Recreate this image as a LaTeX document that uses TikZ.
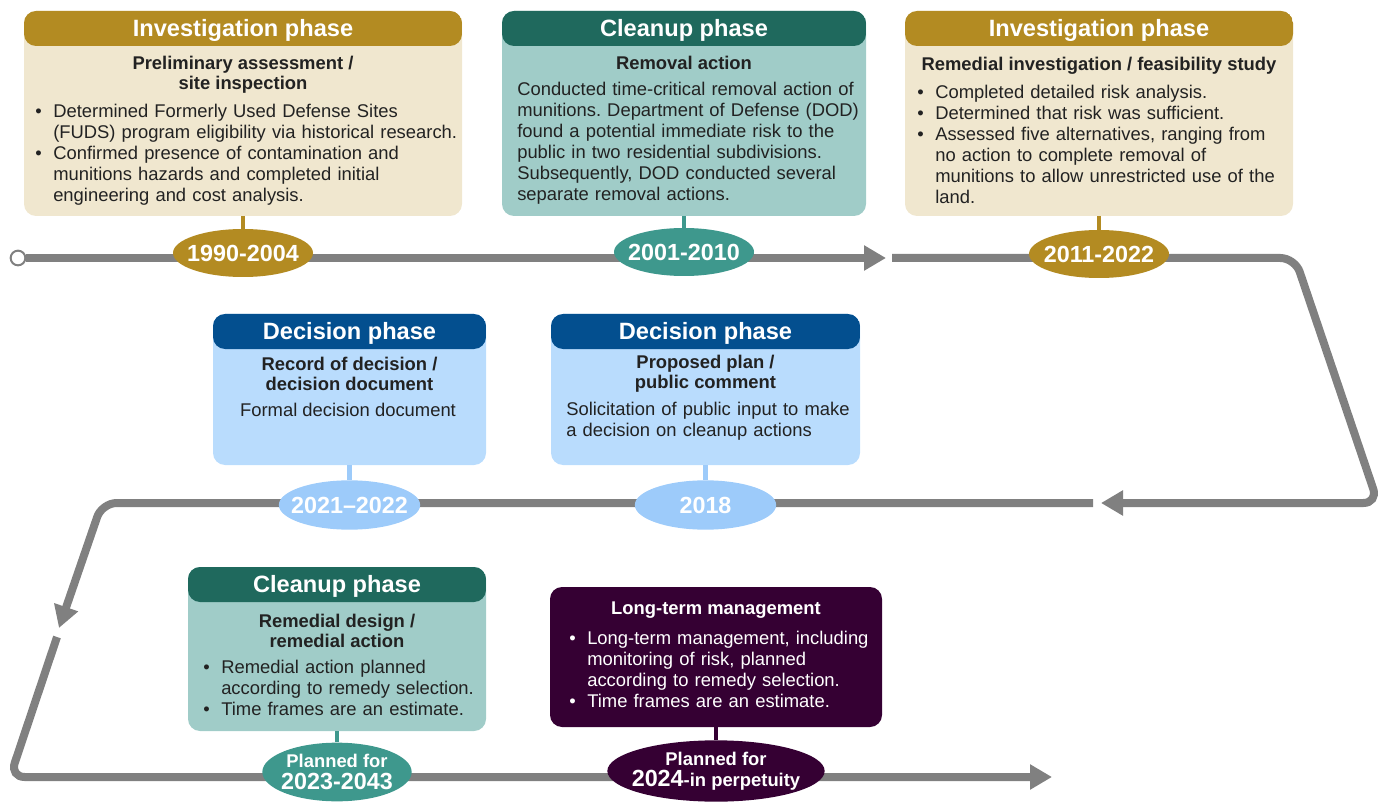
\documentclass[tikz,border=0pt]{standalone}
\usepackage{fontspec}
\setmainfont{Liberation Sans}
\frenchspacing
\usetikzlibrary{shapes.geometric,arrows.meta,fit}
\definecolor{goldc}{HTML}{B38B22}
\definecolor{creamc}{HTML}{F0E7CF}
\definecolor{tealh}{HTML}{1F695D}
\definecolor{tealb}{HTML}{A0CCC8}
\definecolor{teale}{HTML}{3E988D}
\definecolor{blueh}{HTML}{034F8F}
\definecolor{blueb}{HTML}{B9DCFD}
\definecolor{bluee}{HTML}{9DCBFA}
\definecolor{purp}{HTML}{350033}
\definecolor{linec}{HTML}{808080}
\definecolor{txt}{HTML}{222222}
\newcommand{\hdrf}{\bfseries\fontsize{17.7}{20}\selectfont}
\newcommand{\subf}{\bfseries\fontsize{13.8}{15}\selectfont}
\newcommand{\bodyf}{\fontsize{13.8}{15.75}\selectfont}
\newcommand{\yrf}{\bfseries\fontsize{17.5}{19}\selectfont}
\newcommand{\bl}{\makebox[13.5pt][l]{\textbullet}}
\newcommand{\ind}{\hspace*{13.5pt}}
\newcommand{\nl}{\hfil\break}
\tikzset{
  phase/.style 2 args={inner sep=0pt, outer sep=0pt, rounded corners=9pt, fill=#2,
    path picture={\fill[#1] (path picture bounding box.north west) rectangle ([yshift=-26.25pt]path picture bounding box.north east);}},
  plainbox/.style={inner sep=0pt, outer sep=0pt, rounded corners=9pt, fill=#1},
  htext/.style={text=white, font=\hdrf, inner sep=0pt},
  stitle/.style={text=txt, font=\subf, align=center, inner sep=0pt},
  btext/.style={text=txt, font=\bodyf, anchor=north west, inner sep=0pt, text width=360pt},
  yr/.style={ellipse, fill=#1, inner sep=0pt, minimum width=105pt, minimum height=36pt},
  yrt/.style={text=white, font=\yrf, inner sep=0pt, align=center},
  stem/.style={draw=#1, line width=3.5pt},
  tl/.style={draw=linec, line width=6pt, rounded corners=11pt},
  arr/.style={-{Triangle[length=16.5pt,width=18pt]}},
}
\begin{document}
\begin{tikzpicture}[x=0.75pt,y=-0.75pt]
\useasboundingbox (0,0) rectangle (1385,802);
% ---------- timeline ----------
\node[circle, draw=linec, line width=1.5pt, fill=white, minimum size=11pt, inner sep=0pt] (s0) at (18,258) {};
\coordinate (t1) at (886,258);
\coordinate (p2a) at (892,258);
\coordinate (p2b) at (1295,258);
\coordinate (p2c) at (1378,503);
\coordinate (t2) at (1101,503);
\coordinate (p3a) at (1093,503);
\coordinate (p3b) at (102,503);
\coordinate (t3) at (59,628);
\coordinate (p4a) at (57,637);
\coordinate (p4b) at (10,777);
\coordinate (t4) at (1052,777);
\draw[tl, arr] (s0) -- (t1);
\draw[tl, arr] (p2a) -- (p2b) -- (p2c) -- (t2);
\draw[tl, arr] (p3a) -- (p3b) -- (t3);
\draw[tl, arr] (p4a) -- (p4b) -- (t4);
% ---------- boxes ----------
\node[phase={goldc}{creamc}, fit={(24,11) (462,216)}] (b1) {};
\node[phase={tealh}{tealb}, fit={(502,11) (866,216)}] (b2) {};
\node[phase={goldc}{creamc}, fit={(905,11) (1293,216)}] (b3) {};
\node[phase={blueh}{blueb}, fit={(213,314) (486,465)}] (b4) {};
\node[phase={blueh}{blueb}, fit={(551,314) (860,465)}] (b5) {};
\node[phase={tealh}{tealb}, fit={(188,567) (486,731)}] (b6) {};
\node[plainbox=purp, fit={(550,587) (882,727)}] (b7) {};
% ---------- ellipses ----------
\node[yr=goldc] (e1) at (243,253) {};
\node[yr=teale] (e2) at (684,252) {};
\node[yr=goldc] (e3) at (1099,254) {};
\node[yr=bluee, minimum width=106pt, minimum height=37pt] (e4) at (349.5,505) {};
\node[yr=bluee, minimum width=106pt, minimum height=37pt] (e5) at (705.5,505) {};
\node[yr=teale, minimum width=112pt, minimum height=44pt] (e6) at (337,772) {};
\node[yr=purp, minimum width=163pt, minimum height=46pt] (e7) at (716,771) {};
\node[yrt] (y1) at (e1) {1990-2004};
\node[yrt] (y2) at (e2) {2001-2010};
\node[yrt] (y3) at (e3) {2011-2022};
\node[yrt] (y4) at (e4) {2021–2022};
\node[yrt] (y5) at (e5) {2018};
\node[yrt] (y6) at (e6) {{\subf Planned for}\\[-3pt]{\yrf 2023-2043}};
\node[yrt] (y7) at (e7) {{\subf Planned for}\\[-3pt]{\yrf 2024}{\subf -in perpetuity}};
% ---------- stems ----------
\draw[stem=goldc] (b1.south) -- (e1);
\draw[stem=teale] (b2.south) -- (e2);
\draw[stem=goldc] (b3.south) -- (e3);
\draw[stem=bluee] (b4.south) -- (e4);
\draw[stem=bluee] (b5.south) -- (e5);
\draw[stem=teale] (b6.south) -- (e6);
\draw[stem=purp] (b7.south) -- (e7);
% ---------- box 1 ----------
\node[htext] (h1) at (243,30) {Investigation phase};
\node[stitle] (st1) at (243,75) {Preliminary assessment /\\site inspection};
\node[btext] (bt1) at (35,103.5) {\bl Determined Formerly Used Defense Sites\nl\ind (FUDS) program eligibility via historical research.\nl\bl Confirmed presence of contamination and\nl\ind munitions hazards and completed initial\nl\ind engineering and cost analysis.};
% ---------- box 2 ----------
\node[htext] (h2) at (684,30) {Cleanup phase};
\node[stitle] (st2) at (684,63) {Removal action};
\node[btext] (bt2) at (517,82) {Conducted time-critical removal action of\nl munitions. Department of Defense (DOD)\nl found a potential immediate risk to the\nl public in two residential subdivisions.\nl Subsequently, DOD conducted several\nl separate removal actions.};
% ---------- box 3 ----------
\node[htext] (h3) at (1099,30) {Investigation phase};
\node[stitle] (st3) at (1099,66) {Remedial investigation / feasibility study};
\node[btext] (bt3) at (917,85) {\bl Completed detailed risk analysis.\nl\bl Determined that risk was sufficient.\nl\bl Assessed five alternatives, ranging from\nl\ind no action to complete removal of\nl\ind munitions to allow unrestricted use of the\nl\ind land.};
% ---------- box 4 ----------
\node[htext] (h4) at (349.5,333) {Decision phase};
\node[stitle] (st4) at (349.5,373.5) {Record of decision /\\decision document};
\node[text=txt, font=\bodyf, inner sep=0pt] (bt4) at (348,410) {Formal decision document};
% ---------- box 5 ----------
\node[htext] (h5) at (705.5,333) {Decision phase};
\node[stitle] (st5) at (705.5,373.5) {Proposed plan /\\public comment};
\node[btext] (bt5) at (566,402) {Solicitation of public input to make\nl a decision on cleanup actions};
% ---------- box 6 ----------
\node[htext] (h6) at (337,586) {Cleanup phase};
\node[stitle] (st6) at (337,630.5) {Remedial design /\\remedial action};
\node[btext] (bt6) at (203,660) {\bl Remedial action planned\nl\ind according to remedy selection.\nl\bl Time frames are an estimate.};
% ---------- box 7 ----------
\node[stitle, text=white] (st7) at (716,610) {Long-term management};
\node[btext, text=white] (bt7) at (569,630.5) {\bl Long-term management, including\nl\ind monitoring of risk, planned\nl\ind according to remedy selection.\nl\bl Time frames are an estimate.};
\end{tikzpicture}
\end{document}
